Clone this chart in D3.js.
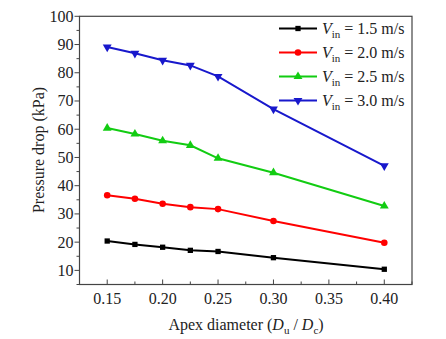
<!DOCTYPE html>
<html><head><meta charset="utf-8">
<script src="https://cdn.jsdelivr.net/npm/d3@7"></script>
<style>body{margin:0;background:#fff}svg{display:block}</style>
</head><body><svg id="c" width="446" height="339"></svg>
<script>
const xValues = [0.15, 0.175, 0.20, 0.225, 0.25, 0.30, 0.40];
const v15 = [20.4, 19.2, 18.2, 17.1, 16.7, 14.5, 10.4];
const v20 = [36.6, 35.4, 33.6, 32.4, 31.7, 27.5, 19.8];
const v25 = [60.4, 58.3, 55.9, 54.3, 49.7, 44.6, 32.8];
const v30 = [89.1, 86.9, 84.4, 82.6, 78.7, 67.1, 47.0];
const seriesNames = ["1.5", "2.0", "2.5", "3.0"];
const xTicks = [0.15, 0.20, 0.25, 0.30, 0.35, 0.40];
const yTicks = [10, 20, 30, 40, 50, 60, 70, 80, 90, 100];

const series = [
  {name: seriesNames[0], vals: v15, color: "#000000", sym: d3.symbolSquare},
  {name: seriesNames[1], vals: v20, color: "#ff0000", sym: d3.symbolCircle},
  {name: seriesNames[2], vals: v25, color: "#12cc12", sym: d3.symbolTriangle},
  {name: seriesNames[3], vals: v30, color: "#1818cc", sym: "down"}
];

const svg = d3.select("#c");
const L = 79.5, R = 412, T = 16.3, B = 284.5;
const x = d3.scaleLinear().domain([0.125, 0.425]).range([L, R]);
const y = d3.scaleLinear().domain([5, 100]).range([B, T]);
const axisColor = "#444";
const FS = 16;
const FONT = "Liberation Serif";

svg.append("rect").attr("x", L).attr("y", T).attr("width", R - L).attr("height", B - T)
  .attr("fill", "none").attr("stroke", axisColor).attr("stroke-width", 1.2);

const xMinor = d3.range(0.125, 0.4251, 0.025).map(v => +v.toFixed(3));
svg.append("g").selectAll("line").data(xMinor).join("line")
  .attr("x1", d => x(d)).attr("x2", d => x(d))
  .attr("y1", B).attr("y2", d => xTicks.some(t => Math.abs(t - d) < 1e-6) ? B - 5 : B - 3)
  .attr("stroke", axisColor).attr("stroke-width", 1);
svg.append("g").selectAll("text").data(xTicks).join("text")
  .attr("x", d => x(d)).attr("y", B + 19).attr("text-anchor", "middle")
  .attr("font-size", FS).attr("fill", "#222").text(d => d.toFixed(2));

const yMinor = d3.range(5, 100.1, 5);
svg.append("g").selectAll("line").data(yMinor).join("line")
  .attr("y1", d => y(d)).attr("y2", d => y(d))
  .attr("x1", L).attr("x2", d => d % 10 === 0 ? L - 5 : L - 3)
  .attr("stroke", axisColor).attr("stroke-width", 1);
svg.append("g").selectAll("text").data(yTicks).join("text")
  .attr("x", L - 6).attr("y", d => y(d) + 5.5).attr("text-anchor", "end")
  .attr("font-size", FS).attr("fill", "#222").text(d => d);

const xt = svg.append("text").attr("x", 246).attr("y", 330).attr("text-anchor", "middle")
  .attr("font-size", FS).attr("fill", "#222");
xt.append("tspan").text("Apex diameter (");
xt.append("tspan").attr("font-style", "italic").text("D");
xt.append("tspan").attr("font-size", 11).attr("dy", 4).text("u");
xt.append("tspan").attr("dy", -4).text(" / ");
xt.append("tspan").attr("font-style", "italic").text("D");
xt.append("tspan").attr("font-size", 11).attr("dy", 4).text("c");
xt.append("tspan").attr("dy", -4).text(")");

svg.append("text").attr("transform", `translate(44,150) rotate(-90)`)
  .attr("text-anchor", "middle").attr("font-size", FS).attr("fill", "#222").text("Pressure drop (kPa)");

const sym = (s, size) => s === "down"
  ? d3.symbol(d3.symbolTriangle, size)()
  : d3.symbol(s, size)();

const line = d3.line().x((d, i) => x(xValues[i])).y(d => y(d));
series.forEach(s => {
  svg.append("path").attr("d", line(s.vals)).attr("fill", "none")
    .attr("stroke", s.color).attr("stroke-width", 2);
  svg.append("g").selectAll("path").data(s.vals).join("path")
    .attr("transform", (d, i) => `translate(${x(xValues[i])},${y(d)})${s.sym === "down" ? " rotate(180)" : ""}`)
    .attr("d", sym(s.sym, s.sym === d3.symbolSquare ? 28 : 34)).attr("fill", s.color);
});

const leg = svg.append("g");
series.forEach((s, i) => {
  const yy = 28.5 + i * 24;
  leg.append("line").attr("x1", 279).attr("x2", 317).attr("y1", yy).attr("y2", yy)
    .attr("stroke", s.color).attr("stroke-width", 2);
  leg.append("path").attr("transform", `translate(298,${yy})${s.sym === "down" ? " rotate(180)" : ""}`)
    .attr("d", sym(s.sym, s.sym === d3.symbolSquare ? 28 : 34)).attr("fill", s.color);
  const t = leg.append("text").attr("x", 322).attr("y", yy + 5).attr("font-size", FS).attr("fill", "#222");
  t.append("tspan").attr("font-style", "italic").text("V");
  t.append("tspan").attr("font-size", 11).attr("dy", 4).text("in");
  t.append("tspan").attr("dy", -4).text(" = " + s.name + " m/s");
});

svg.selectAll("text").attr("font-family", FONT);
</script></body></html>
